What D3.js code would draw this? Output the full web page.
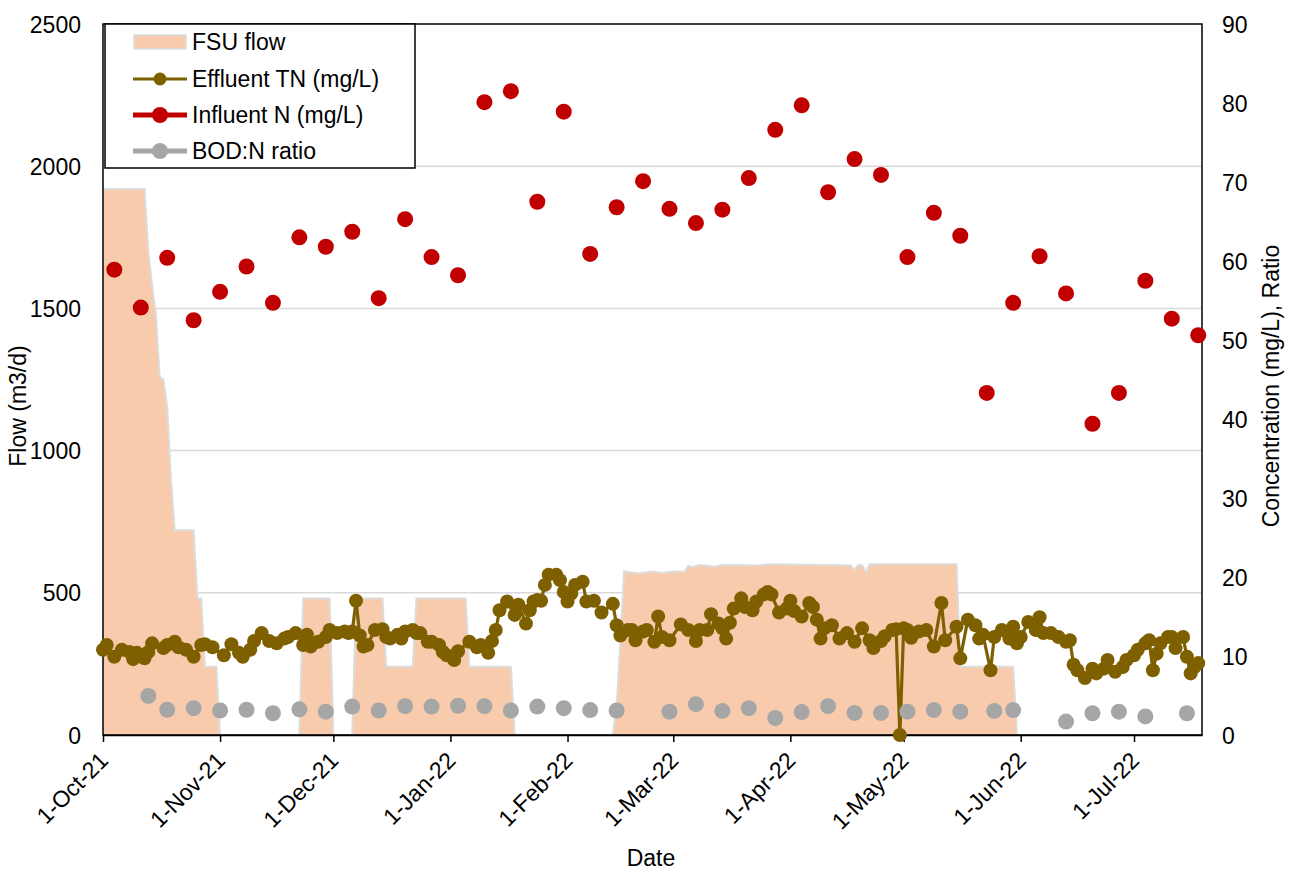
<!DOCTYPE html>
<html>
<head>
<meta charset="utf-8">
<script src="https://cdn.jsdelivr.net/npm/d3@7"></script>
<style>
  body { margin: 0; background: #fff; }
  text { font-family: "Liberation Sans", Arial, sans-serif; fill: #000; }
</style>
</head>
<body>
<svg id="chart" width="1294" height="872"></svg>
<script>
// ---- data -------------------------------------------------------------
// FSU flow (m3/d): vertices of the daily flow record
const flowSeries = [
  ["2021-10-01",1920],["2021-10-12",1920],["2021-10-13",1700],["2021-10-14",1580],
  ["2021-10-15",1480],["2021-10-16",1260],["2021-10-17",1250],["2021-10-18",1150],
  ["2021-10-19",900],["2021-10-20",720],["2021-10-25",720],["2021-10-26",480],
  ["2021-10-27",480],["2021-10-28",240],["2021-10-31",240],["2021-11-01",0],
  ["2021-11-22",0],["2021-11-23",480],["2021-11-30",480],["2021-12-01",0],
  ["2021-12-06",0],["2021-12-07",480],["2021-12-14",480],["2021-12-15",240],
  ["2021-12-22",240],["2021-12-23",480],["2022-01-05",480],["2022-01-06",240],
  ["2022-01-17",240],["2022-01-18",0],["2022-02-13",0],["2022-02-14",100],
  ["2022-02-15",330],["2022-02-16",575],["2022-02-20",568],["2022-02-23",575],
  ["2022-02-26",570],["2022-03-01",575],["2022-03-04",575],["2022-03-05",595],
  ["2022-03-06",590],["2022-03-08",598],["2022-03-12",592],["2022-03-14",598],
  ["2022-03-24",596],["2022-03-26",600],["2022-04-10",598],["2022-04-17",596],
  ["2022-04-18",580],["2022-04-19",598],["2022-04-20",596],["2022-04-21",572],
  ["2022-04-22",600],["2022-05-15",600],["2022-05-16",240],["2022-05-30",240],
  ["2022-05-31",0],["2022-07-19",0]
];

// Effluent TN (mg/L)
const effluentTN = [
  ["2021-10-01",10.8],["2021-10-02",11.4],["2021-10-04",9.9],["2021-10-06",10.8],["2021-10-08",10.5],
  ["2021-10-09",9.6],["2021-10-10",10.4],["2021-10-12",9.7],["2021-10-13",10.5],["2021-10-14",11.6],
  ["2021-10-17",11.0],["2021-10-18",11.4],["2021-10-20",11.8],["2021-10-21",11.1],["2021-10-23",10.8],
  ["2021-10-25",9.9],["2021-10-27",11.4],["2021-10-28",11.5],["2021-10-30",11.1],["2021-11-02",10.1],
  ["2021-11-04",11.5],["2021-11-06",10.4],["2021-11-07",9.9],["2021-11-09",10.8],["2021-11-10",11.9],
  ["2021-11-12",12.9],["2021-11-14",11.9],["2021-11-16",11.6],["2021-11-18",12.2],["2021-11-19",12.4],
  ["2021-11-21",12.9],["2021-11-23",11.4],["2021-11-24",12.7],["2021-11-25",11.2],["2021-11-27",11.8],
  ["2021-11-29",12.4],["2021-11-30",13.3],["2021-12-02",12.9],["2021-12-04",13.1],["2021-12-05",12.9],
  ["2021-12-06",13.1],["2021-12-07",17.0],["2021-12-08",12.6],["2021-12-09",11.2],["2021-12-10",11.4],
  ["2021-12-12",13.3],["2021-12-14",13.4],["2021-12-15",12.4],["2021-12-16",12.2],["2021-12-18",12.7],
  ["2021-12-19",12.2],["2021-12-20",13.1],["2021-12-22",13.3],["2021-12-23",12.9],["2021-12-24",12.9],
  ["2021-12-26",11.8],["2021-12-27",11.8],["2021-12-29",11.4],["2021-12-30",10.5],["2021-12-31",10.1],
  ["2022-01-02",9.5],["2022-01-03",10.6],["2022-01-06",11.8],["2022-01-08",11.1],["2022-01-09",11.4],
  ["2022-01-11",10.4],["2022-01-12",11.9],["2022-01-13",13.3],["2022-01-14",15.8],["2022-01-16",16.9],
  ["2022-01-18",15.2],["2022-01-19",16.5],["2022-01-21",14.1],["2022-01-22",15.8],["2022-01-23",16.9],
  ["2022-01-24",17.1],["2022-01-25",17.0],["2022-01-26",19.0],["2022-01-27",20.3],["2022-01-29",20.3],
  ["2022-01-30",19.6],["2022-01-31",18.1],["2022-02-01",16.9],["2022-02-02",17.9],["2022-02-03",19.0],
  ["2022-02-05",19.4],["2022-02-06",16.9],["2022-02-08",17.0],["2022-02-10",15.5],["2022-02-13",16.6],
  ["2022-02-14",13.9],["2022-02-15",12.6],["2022-02-17",13.3],["2022-02-18",13.3],["2022-02-19",12.0],
  ["2022-02-21",13.1],["2022-02-22",13.3],["2022-02-24",11.8],["2022-02-25",15.0],["2022-02-26",12.4],
  ["2022-02-28",12.0],["2022-03-03",14.0],["2022-03-05",13.3],["2022-03-07",11.9],["2022-03-08",13.3],
  ["2022-03-10",13.3],["2022-03-11",15.3],["2022-03-13",14.1],["2022-03-14",13.5],["2022-03-15",12.2],
  ["2022-03-16",14.2],["2022-03-17",16.0],["2022-03-19",17.3],["2022-03-20",16.2],["2022-03-22",15.8],
  ["2022-03-23",16.9],["2022-03-25",17.8],["2022-03-26",18.1],["2022-03-27",17.8],["2022-03-29",15.5],
  ["2022-03-31",16.0],["2022-04-01",17.0],["2022-04-02",15.7],["2022-04-04",15.0],["2022-04-06",16.7],
  ["2022-04-07",16.2],["2022-04-08",14.6],["2022-04-09",12.2],["2022-04-10",13.5],["2022-04-12",13.9],
  ["2022-04-14",12.2],["2022-04-16",12.9],["2022-04-18",11.8],["2022-04-20",13.5],["2022-04-22",12.0],
  ["2022-04-23",11.0],["2022-04-25",11.9],["2022-04-26",12.5],["2022-04-28",13.3],["2022-04-29",13.4],
  ["2022-04-30",0],["2022-05-01",13.5],["2022-05-02",13.3],["2022-05-03",12.3],["2022-05-05",13.1],
  ["2022-05-07",13.3],["2022-05-09",11.2],["2022-05-11",16.7],["2022-05-12",12.0],["2022-05-15",13.7],
  ["2022-05-16",9.7],["2022-05-18",14.6],["2022-05-20",13.9],["2022-05-21",12.2],["2022-05-22",12.7],
  ["2022-05-24",8.2],["2022-05-25",12.4],["2022-05-27",13.3],["2022-05-29",12.2],["2022-05-30",13.7],
  ["2022-05-31",11.6],["2022-06-01",12.4],["2022-06-03",14.3],["2022-06-05",13.3],["2022-06-06",14.9],
  ["2022-06-07",12.9],["2022-06-09",12.9],["2022-06-11",12.4],["2022-06-13",11.8],["2022-06-14",12.0],
  ["2022-06-15",8.9],["2022-06-16",8.2],["2022-06-18",7.2],["2022-06-20",8.4],["2022-06-21",7.8],
  ["2022-06-23",8.4],["2022-06-24",9.5],["2022-06-26",8.0],["2022-06-28",8.6],["2022-06-29",9.5],
  ["2022-07-01",10.1],["2022-07-02",10.8],["2022-07-04",11.6],["2022-07-05",12.0],["2022-07-06",8.2],
  ["2022-07-07",10.3],["2022-07-08",11.6],["2022-07-10",12.4],["2022-07-11",12.4],["2022-07-12",11.0],
  ["2022-07-14",12.4],["2022-07-15",9.9],["2022-07-16",7.8],["2022-07-17",8.6],["2022-07-18",9.1]
];

// Influent N (mg/L), weekly samples
const influentN = [
  ["2021-10-04",58.9],["2021-10-11",54.1],["2021-10-18",60.4],["2021-10-25",52.5],["2021-11-01",56.1],
  ["2021-11-08",59.3],["2021-11-15",54.7],["2021-11-22",63.0],["2021-11-29",61.8],["2021-12-06",63.7],
  ["2021-12-13",55.3],["2021-12-20",65.3],["2021-12-27",60.5],["2022-01-03",58.2],["2022-01-10",80.1],
  ["2022-01-17",81.5],["2022-01-24",67.5],["2022-01-31",78.9],["2022-02-07",60.9],["2022-02-14",66.8],
  ["2022-02-21",70.1],["2022-02-28",66.6],["2022-03-07",64.8],["2022-03-14",66.5],["2022-03-21",70.5],
  ["2022-03-28",76.6],["2022-04-04",79.7],["2022-04-11",68.7],["2022-04-18",72.9],["2022-04-25",70.9],
  ["2022-05-02",60.5],["2022-05-09",66.1],["2022-05-16",63.2],["2022-05-23",43.3],["2022-05-30",54.7],
  ["2022-06-06",60.6],["2022-06-13",55.9],["2022-06-20",39.4],["2022-06-27",43.3],["2022-07-04",57.5],
  ["2022-07-11",52.7],["2022-07-18",50.6]
];

// BOD:N ratio
const bodNRatio = [
  ["2021-10-13",4.95],["2021-10-18",3.2],["2021-10-25",3.4],["2021-11-01",3.1],["2021-11-08",3.2],
  ["2021-11-15",2.75],["2021-11-22",3.25],["2021-11-29",2.95],["2021-12-06",3.6],["2021-12-13",3.1],
  ["2021-12-20",3.65],["2021-12-27",3.6],["2022-01-03",3.7],["2022-01-10",3.65],["2022-01-17",3.1],
  ["2022-01-24",3.6],["2022-01-31",3.4],["2022-02-07",3.15],["2022-02-14",3.1],["2022-02-28",2.95],
  ["2022-03-07",3.9],["2022-03-14",3.05],["2022-03-21",3.4],["2022-03-28",2.15],["2022-04-04",2.9],
  ["2022-04-11",3.65],["2022-04-18",2.8],["2022-04-25",2.8],["2022-05-02",2.95],["2022-05-09",3.15],
  ["2022-05-16",2.95],["2022-05-25",3.05],["2022-05-30",3.15],["2022-06-13",1.7],["2022-06-20",2.75],
  ["2022-06-27",2.95],["2022-07-04",2.35],["2022-07-15",2.75]
];

const monthTicks = ["2021-10-01","2021-11-01","2021-12-01","2022-01-01","2022-02-01","2022-03-01",
                    "2022-04-01","2022-05-01","2022-06-01","2022-07-01"];
const flowTicks = [0, 500, 1000, 1500, 2000, 2500];
const concTicks = [0, 10, 20, 30, 40, 50, 60, 70, 80, 90];
const dateRange = ["2021-10-01", "2022-07-19"];

const seriesNames = ["FSU flow", "Effluent TN (mg/L)", "Influent N (mg/L)", "BOD:N ratio"];

// ---- setup ------------------------------------------------------------
const parse = d3.timeParse("%Y-%m-%d");
const rows = arr => arr.map(([d, v]) => ({ date: parse(d), v }));
const flow = rows(flowSeries), eff = rows(effluentTN), inf = rows(influentN), bod = rows(bodNRatio);

const plot = { left: 103, right: 1202, top: 24, bottom: 735 };

const colors = {
  flowFill: "#f8cbad", flowEdge: "#dcdcdc",
  eff: "#7f6000", inf: "#c00000", bod: "#a6a6a6", grid: "#d9d9d9"
};
const FONT = 23;

const svg = d3.select("#chart");

const x = d3.scaleTime().domain(dateRange.map(parse)).range([plot.left, plot.right]);
const yL = d3.scaleLinear().domain([0, 2500]).range([plot.bottom, plot.top]);
const yR = d3.scaleLinear().domain([0, 90]).range([plot.bottom, plot.top]);

// gridlines (primary axis)
svg.append("g").selectAll("line").data(flowTicks.filter(t => t > 0 && t < 2500)).join("line")
  .attr("x1", plot.left).attr("x2", plot.right)
  .attr("y1", d => yL(d)).attr("y2", d => yL(d))
  .attr("stroke", colors.grid).attr("stroke-width", 1.5);

// flow area
const area = d3.area().x(d => x(d.date)).y0(yL(0)).y1(d => yL(d.v));
const topLine = d3.line().x(d => x(d.date)).y(d => yL(d.v));
svg.append("path").datum(flow).attr("d", area).attr("fill", colors.flowFill);
svg.append("path").datum(flow).attr("d", topLine)
  .attr("fill", "none").attr("stroke", colors.flowEdge).attr("stroke-width", 2);

// plot frame
svg.append("rect")
  .attr("x", plot.left).attr("y", plot.top)
  .attr("width", plot.right - plot.left).attr("height", plot.bottom - plot.top)
  .attr("fill", "none").attr("stroke", "#000").attr("stroke-width", 1.5);

// x axis
const xAxis = d3.axisBottom(x)
  .tickValues(monthTicks.map(parse))
  .tickFormat(d3.timeFormat("%-d-%b-%y"))
  .tickSizeInner(7).tickSizeOuter(0);
const gx = svg.append("g").attr("transform", `translate(0,${plot.bottom})`).call(xAxis);
gx.select(".domain").attr("stroke", "#000").attr("stroke-width", 1.5);
gx.selectAll(".tick line").attr("stroke", "#000").attr("stroke-width", 1.5);
gx.selectAll(".tick text")
  .attr("font-size", FONT)
  .attr("text-anchor", "end")
  .attr("y", 0).attr("dy", 0)
  .attr("transform", "translate(6,27) rotate(-45)");

// left axis
const gyl = svg.append("g").attr("transform", `translate(${plot.left},0)`)
  .call(d3.axisLeft(yL).tickValues(flowTicks).tickFormat(d3.format("d")).tickSize(0).tickPadding(22));
gyl.select(".domain").remove();
gyl.selectAll(".tick text").attr("font-size", FONT).attr("dy", "0.35em");

// right axis
const gyr = svg.append("g").attr("transform", `translate(${plot.right},0)`)
  .call(d3.axisRight(yR).tickValues(concTicks).tickFormat(d3.format("d")).tickSize(0).tickPadding(20));
gyr.select(".domain").remove();
gyr.selectAll(".tick text").attr("font-size", FONT).attr("dy", "0.35em");

// axis titles
svg.append("text").attr("transform", "translate(18,406) rotate(-90)")
  .attr("text-anchor", "middle").attr("dy", "0.35em").attr("font-size", FONT)
  .text("Flow (m3/d)");
svg.append("text").attr("transform", "translate(1271,386) rotate(-90)")
  .attr("text-anchor", "middle").attr("dy", "0.35em").attr("font-size", FONT)
  .text("Concentration (mg/L), Ratio");
svg.append("text").attr("x", 651).attr("y", 858)
  .attr("text-anchor", "middle").attr("dy", "0.35em").attr("font-size", FONT)
  .text("Date");

// effluent TN line with markers
svg.append("path").datum(eff)
  .attr("d", d3.line().x(d => x(d.date)).y(d => yR(d.v)))
  .attr("fill", "none").attr("stroke", colors.eff).attr("stroke-width", 3.2)
  .attr("stroke-linejoin", "round");
svg.append("g").selectAll("circle").data(eff).join("circle")
  .attr("cx", d => x(d.date)).attr("cy", d => yR(d.v)).attr("r", 7)
  .attr("fill", colors.eff);

// influent N markers
svg.append("g").selectAll("circle").data(inf).join("circle")
  .attr("cx", d => x(d.date)).attr("cy", d => yR(d.v)).attr("r", 8)
  .attr("fill", colors.inf);

// BOD:N ratio markers
svg.append("g").selectAll("circle").data(bod).join("circle")
  .attr("cx", d => x(d.date)).attr("cy", d => yR(d.v)).attr("r", 8)
  .attr("fill", colors.bod);

// legend
const lg = svg.append("g");
lg.append("rect").attr("x", 105).attr("y", 24).attr("width", 310).attr("height", 144)
  .attr("fill", "#fff").attr("stroke", "#000").attr("stroke-width", 1.5);
const rowY = [42, 79, 115, 151];
const sw = { x1: 133, x2: 187 };
lg.append("rect").attr("x", sw.x1 + 1).attr("y", rowY[0] - 7).attr("width", sw.x2 - sw.x1 - 2).attr("height", 14)
  .attr("fill", colors.flowFill).attr("stroke", colors.flowEdge).attr("stroke-width", 1.5);
const lineKeys = [
  { c: colors.eff, w: 3, r: 6.5 },
  { c: colors.inf, w: 5, r: 8 },
  { c: colors.bod, w: 5, r: 8 }
];
lineKeys.forEach((k, i) => {
  const y = rowY[i + 1];
  lg.append("line").attr("x1", sw.x1).attr("x2", sw.x2).attr("y1", y).attr("y2", y)
    .attr("stroke", k.c).attr("stroke-width", k.w);
  lg.append("circle").attr("cx", (sw.x1 + sw.x2) / 2).attr("cy", y).attr("r", k.r).attr("fill", k.c);
});
seriesNames.forEach((n, i) => {
  lg.append("text").attr("x", 192).attr("y", rowY[i]).attr("dy", "0.35em")
    .attr("font-size", FONT).text(n);
});
</script>
</body>
</html>
